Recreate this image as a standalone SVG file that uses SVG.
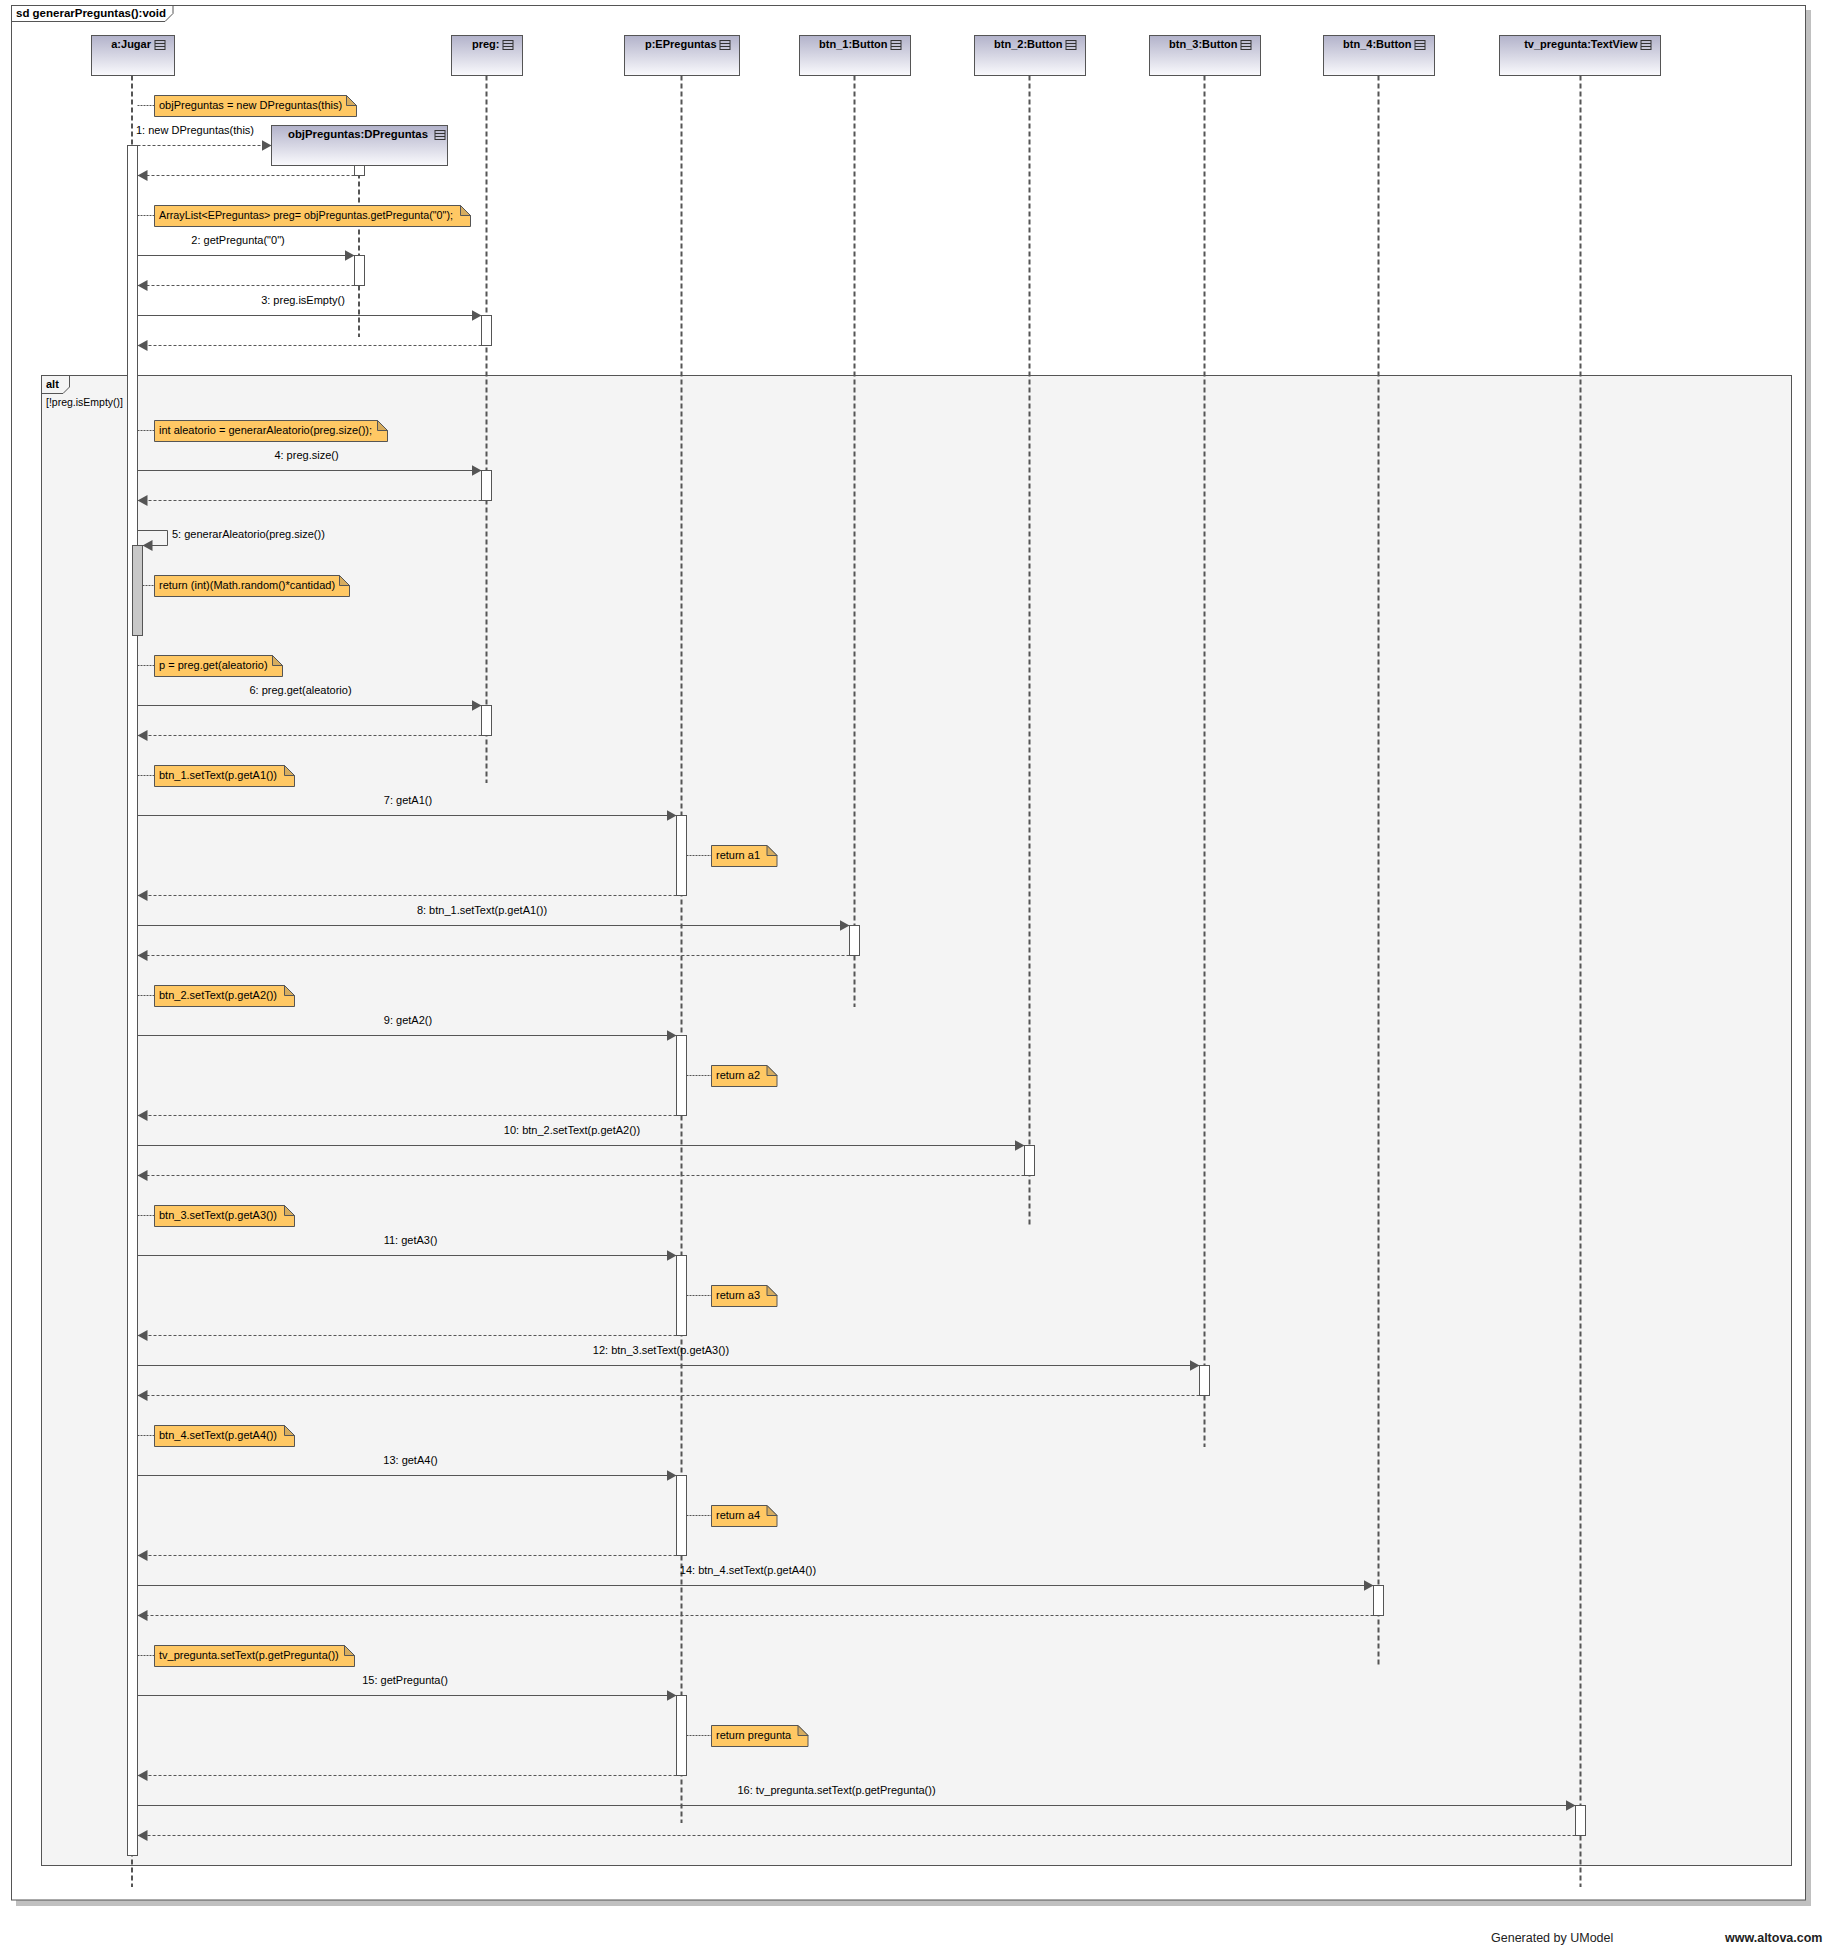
<svg xmlns="http://www.w3.org/2000/svg" width="1832" height="1946" viewBox="0 0 1832 1946">
<defs>
<linearGradient id="hg" x1="0" y1="0" x2="0" y2="1"><stop offset="0" stop-color="#b2b2ca"/><stop offset="1" stop-color="#fafafd"/></linearGradient>
<marker id="ah" markerUnits="userSpaceOnUse" markerWidth="12" markerHeight="13" refX="10" refY="6" orient="auto"><path d="M0,0.5 L10,6 L0,11.5 Z" fill="#555" stroke="none"/></marker>
</defs>
<style>
text{font-family:"Liberation Sans",Arial,sans-serif;font-size:11px;fill:#000}
.b{font-weight:bold}
.m{text-anchor:middle}
.e{text-anchor:end}
.hdr{fill:url(#hg);stroke:#555;stroke-width:1}
.ic{fill:none;stroke:#333;stroke-width:1}
.ll{stroke:#555;stroke-width:2;stroke-dasharray:5 3;fill:none}
.act{fill:#fff;stroke:#555;stroke-width:1}
.act2{fill:#c8c8c8;stroke:#555;stroke-width:1}
.call{stroke:#555;stroke-width:1;fill:none;marker-end:url(#ah)}
.ret{stroke:#555;stroke-width:1;stroke-dasharray:3 2;fill:none;marker-end:url(#ah)}
.note{fill:#ffc864;stroke:#555;stroke-width:1}
.fold{fill:#d6ac5e;stroke:#555;stroke-width:1}
.nc{stroke:#555;stroke-width:1;stroke-dasharray:2 1;fill:none}
.frm{fill:none;stroke:#555;stroke-width:1}
.foot{font-size:12.5px;fill:#222}
</style>

<g id="frame">
<rect x="16" y="10" width="1795" height="1896" fill="#c0c0c0"/>
<rect x="11.5" y="5.5" width="1794" height="1894.5" fill="#fff" stroke="#555"/>
<path class="frm" d="M11.5 21.5H165L173 13.5V5.5"/>
<text class="b" x="16" y="17" textLength="150" lengthAdjust="spacingAndGlyphs">sd generarPreguntas():void</text>
</g>

<g id="alt">
<rect x="41.5" y="375.5" width="1750" height="1490" fill="#f4f4f4" stroke="#555"/>
<path class="frm" d="M41.5 393.5H63L69.5 387V375.5"/>
<text class="b" x="46" y="388">alt</text>
<text x="46" y="406" textLength="77" lengthAdjust="spacingAndGlyphs">[!preg.isEmpty()]</text>
</g>

<g id="lifeline-jugar">
<rect class="hdr" x="91.5" y="35.5" width="83" height="40"/>
<text class="b e" x="151" y="48">a:Jugar</text>
<g class="ic"><rect x="155" y="40.5" width="10" height="9"/><path d="M155 43.5H165M155 46.5H165"/></g>
<line class="ll" x1="132" y1="75.5" x2="132" y2="1887"/>
<rect class="act" x="127.5" y="145.5" width="10" height="1710"/>
<rect class="act2" x="132.5" y="545.5" width="10" height="90"/>
</g>

<g id="lifeline-objPreguntas">
<rect class="hdr" x="271.5" y="125.5" width="176" height="40"/>
<text class="b e" x="428" y="138" textLength="140" lengthAdjust="spacingAndGlyphs">objPreguntas:DPreguntas</text>
<g class="ic"><rect x="435" y="130.5" width="10" height="9"/><path d="M435 133.5H445M435 136.5H445"/></g>
<line class="ll" x1="359" y1="165.5" x2="359" y2="337"/>
<rect class="act" x="354.5" y="165.5" width="10" height="10"/>
<rect class="act" x="354.5" y="255.5" width="10" height="30"/>
</g>

<g id="lifeline-preg">
<rect class="hdr" x="451.5" y="35.5" width="71" height="40"/>
<text class="b e" x="499.5" y="48">preg:</text>
<g class="ic"><rect x="503" y="40.5" width="10" height="9"/><path d="M503 43.5H513M503 46.5H513"/></g>
<line class="ll" x1="486.5" y1="75.5" x2="486.5" y2="783"/>
<rect class="act" x="481.5" y="315.5" width="10" height="30"/>
<rect class="act" x="481.5" y="470.5" width="10" height="30"/>
<rect class="act" x="481.5" y="705.5" width="10" height="30"/>
</g>

<g id="lifeline-p">
<rect class="hdr" x="624.5" y="35.5" width="115" height="40"/>
<text class="b e" x="716.5" y="48">p:EPreguntas</text>
<g class="ic"><rect x="720" y="40.5" width="10" height="9"/><path d="M720 43.5H730M720 46.5H730"/></g>
<line class="ll" x1="681.5" y1="75.5" x2="681.5" y2="1823"/>
<rect class="act" x="676.5" y="815.5" width="10" height="80"/>
<rect class="act" x="676.5" y="1035.5" width="10" height="80"/>
<rect class="act" x="676.5" y="1255.5" width="10" height="80"/>
<rect class="act" x="676.5" y="1475.5" width="10" height="80"/>
<rect class="act" x="676.5" y="1695.5" width="10" height="80"/>
</g>

<g id="lifeline-btn1">
<rect class="hdr" x="799.5" y="35.5" width="111" height="40"/>
<text class="b e" x="887.5" y="48">btn_1:Button</text>
<g class="ic"><rect x="891" y="40.5" width="10" height="9"/><path d="M891 43.5H901M891 46.5H901"/></g>
<line class="ll" x1="854.5" y1="75.5" x2="854.5" y2="1007"/>
<rect class="act" x="849.5" y="925.5" width="10" height="30"/>
</g>

<g id="lifeline-btn2">
<rect class="hdr" x="974.5" y="35.5" width="111" height="40"/>
<text class="b e" x="1062.5" y="48">btn_2:Button</text>
<g class="ic"><rect x="1066" y="40.5" width="10" height="9"/><path d="M1066 43.5H1076M1066 46.5H1076"/></g>
<line class="ll" x1="1029.5" y1="75.5" x2="1029.5" y2="1227"/>
<rect class="act" x="1024.5" y="1145.5" width="10" height="30"/>
</g>

<g id="lifeline-btn3">
<rect class="hdr" x="1149.5" y="35.5" width="111" height="40"/>
<text class="b e" x="1237.5" y="48">btn_3:Button</text>
<g class="ic"><rect x="1241" y="40.5" width="10" height="9"/><path d="M1241 43.5H1251M1241 46.5H1251"/></g>
<line class="ll" x1="1204.5" y1="75.5" x2="1204.5" y2="1447"/>
<rect class="act" x="1199.5" y="1365.5" width="10" height="30"/>
</g>

<g id="lifeline-btn4">
<rect class="hdr" x="1323.5" y="35.5" width="111" height="40"/>
<text class="b e" x="1411.5" y="48">btn_4:Button</text>
<g class="ic"><rect x="1415" y="40.5" width="10" height="9"/><path d="M1415 43.5H1425M1415 46.5H1425"/></g>
<line class="ll" x1="1378.5" y1="75.5" x2="1378.5" y2="1667"/>
<rect class="act" x="1373.5" y="1585.5" width="10" height="30"/>
</g>

<g id="lifeline-tv">
<rect class="hdr" x="1499.5" y="35.5" width="161" height="40"/>
<text class="b e" x="1637.5" y="48">tv_pregunta:TextView</text>
<g class="ic"><rect x="1641" y="40.5" width="10" height="9"/><path d="M1641 43.5H1651M1641 46.5H1651"/></g>
<line class="ll" x1="1580.5" y1="75.5" x2="1580.5" y2="1887"/>
<rect class="act" x="1575.5" y="1805.5" width="10" height="30"/>
</g>

<g id="connectors">
<path class="ret" d="M137.5 145.5H271.5"/>
<text x="136" y="134">1: new DPreguntas(this)</text>
<path class="ret" d="M354.5 175.5H137.5"/>
<path class="call" d="M137.5 255.5H354.5"/>
<text class="m" x="238" y="244">2: getPregunta("0")</text>
<path class="ret" d="M354.5 285.5H137.5"/>
<path class="call" d="M137.5 315.5H481.5"/>
<text class="m" x="303" y="304">3: preg.isEmpty()</text>
<path class="ret" d="M481.5 345.5H137.5"/>
<path class="call" d="M137.5 470.5H481.5"/>
<text class="m" x="306.5" y="459">4: preg.size()</text>
<path class="ret" d="M481.5 500.5H137.5"/>
<path class="call" d="M137.5 530.5H167.5V545.5H142.5"/>
<text x="172" y="538">5: generarAleatorio(preg.size())</text>
<path class="call" d="M137.5 705.5H481.5"/>
<text class="m" x="300.5" y="694">6: preg.get(aleatorio)</text>
<path class="ret" d="M481.5 735.5H137.5"/>

<path class="call" d="M137.5 815.5H676.5"/>
<text class="m" x="408" y="804">7: getA1()</text>
<path class="ret" d="M676.5 895.5H137.5"/>
<path class="call" d="M137.5 925.5H849.5"/>
<text class="m" x="482" y="914">8: btn_1.setText(p.getA1())</text>
<path class="ret" d="M849.5 955.5H137.5"/>

<path class="call" d="M137.5 1035.5H676.5"/>
<text class="m" x="408" y="1024">9: getA2()</text>
<path class="ret" d="M676.5 1115.5H137.5"/>
<path class="call" d="M137.5 1145.5H1024.5"/>
<text class="m" x="572" y="1134">10: btn_2.setText(p.getA2())</text>
<path class="ret" d="M1024.5 1175.5H137.5"/>

<path class="call" d="M137.5 1255.5H676.5"/>
<text class="m" x="410.5" y="1244">11: getA3()</text>
<path class="ret" d="M676.5 1335.5H137.5"/>
<path class="call" d="M137.5 1365.5H1199.5"/>
<text class="m" x="661" y="1354">12: btn_3.setText(p.getA3())</text>
<path class="ret" d="M1199.5 1395.5H137.5"/>

<path class="call" d="M137.5 1475.5H676.5"/>
<text class="m" x="410.5" y="1464">13: getA4()</text>
<path class="ret" d="M676.5 1555.5H137.5"/>
<path class="call" d="M137.5 1585.5H1373.5"/>
<text class="m" x="748" y="1574">14: btn_4.setText(p.getA4())</text>
<path class="ret" d="M1373.5 1615.5H137.5"/>

<path class="call" d="M137.5 1695.5H676.5"/>
<text class="m" x="405" y="1684">15: getPregunta()</text>
<path class="ret" d="M676.5 1775.5H137.5"/>
<path class="call" d="M137.5 1805.5H1575.5"/>
<text class="m" x="836.5" y="1794">16: tv_pregunta.setText(p.getPregunta())</text>
<path class="ret" d="M1575.5 1835.5H137.5"/>

<path class="nc" d="M137.5 105.5H154.5"/>
<path class="nc" d="M137.5 215.5H154.5"/>
<path class="nc" d="M137.5 430.5H154.5"/>
<path class="nc" d="M142.5 585.5H154.5"/>
<path class="nc" d="M137.5 665.5H154.5"/>
<path class="nc" d="M137.5 775.5H154.5"/>
<path class="nc" d="M686.5 855.5H711.5"/>
<path class="nc" d="M137.5 995.5H154.5"/>
<path class="nc" d="M686.5 1075.5H711.5"/>
<path class="nc" d="M137.5 1215.5H154.5"/>
<path class="nc" d="M686.5 1295.5H711.5"/>
<path class="nc" d="M137.5 1435.5H154.5"/>
<path class="nc" d="M686.5 1515.5H711.5"/>
<path class="nc" d="M137.5 1655.5H154.5"/>
<path class="nc" d="M686.5 1735.5H711.5"/>
</g>

<g id="note1"><path class="note" d="M154.5 95.5H346.5L356.5 105.5V116.5H154.5Z"/><path class="fold" d="M346.5 95.5V105.5H356.5Z"/><text x="159" y="109">objPreguntas = new DPreguntas(this)</text></g>
<g id="note2"><path class="note" d="M154.5 205.5H460.5L470.5 215.5V226.5H154.5Z"/><path class="fold" d="M460.5 205.5V215.5H470.5Z"/><text x="159" y="219" textLength="294" lengthAdjust="spacingAndGlyphs">ArrayList&lt;EPreguntas&gt; preg= objPreguntas.getPregunta("0");</text></g>
<g id="note3"><path class="note" d="M154.5 420.5H377.5L387.5 430.5V441.5H154.5Z"/><path class="fold" d="M377.5 420.5V430.5H387.5Z"/><text x="159" y="434">int aleatorio = generarAleatorio(preg.size());</text></g>
<g id="note4"><path class="note" d="M154.5 575.5H339.5L349.5 585.5V596.5H154.5Z"/><path class="fold" d="M339.5 575.5V585.5H349.5Z"/><text x="159" y="589">return (int)(Math.random()*cantidad)</text></g>
<g id="note5"><path class="note" d="M154.5 655.5H272.5L282.5 665.5V676.5H154.5Z"/><path class="fold" d="M272.5 655.5V665.5H282.5Z"/><text x="159" y="669">p = preg.get(aleatorio)</text></g>
<g id="note6"><path class="note" d="M154.5 765.5H284.5L294.5 775.5V786.5H154.5Z"/><path class="fold" d="M284.5 765.5V775.5H294.5Z"/><text x="159" y="779">btn_1.setText(p.getA1())</text></g>
<g id="note7"><path class="note" d="M711.5 845.5H767L777 855.5V866.5H711.5Z"/><path class="fold" d="M767 845.5V855.5H777Z"/><text x="716" y="859">return a1</text></g>
<g id="note8"><path class="note" d="M154.5 985.5H284.5L294.5 995.5V1006.5H154.5Z"/><path class="fold" d="M284.5 985.5V995.5H294.5Z"/><text x="159" y="999">btn_2.setText(p.getA2())</text></g>
<g id="note9"><path class="note" d="M711.5 1065.5H767L777 1075.5V1086.5H711.5Z"/><path class="fold" d="M767 1065.5V1075.5H777Z"/><text x="716" y="1079">return a2</text></g>
<g id="note10"><path class="note" d="M154.5 1205.5H284.5L294.5 1215.5V1226.5H154.5Z"/><path class="fold" d="M284.5 1205.5V1215.5H294.5Z"/><text x="159" y="1219">btn_3.setText(p.getA3())</text></g>
<g id="note11"><path class="note" d="M711.5 1285.5H767L777 1295.5V1306.5H711.5Z"/><path class="fold" d="M767 1285.5V1295.5H777Z"/><text x="716" y="1299">return a3</text></g>
<g id="note12"><path class="note" d="M154.5 1425.5H284.5L294.5 1435.5V1446.5H154.5Z"/><path class="fold" d="M284.5 1425.5V1435.5H294.5Z"/><text x="159" y="1439">btn_4.setText(p.getA4())</text></g>
<g id="note13"><path class="note" d="M711.5 1505.5H767L777 1515.5V1526.5H711.5Z"/><path class="fold" d="M767 1505.5V1515.5H777Z"/><text x="716" y="1519">return a4</text></g>
<g id="note14"><path class="note" d="M154.5 1645.5H344.5L354.5 1655.5V1666.5H154.5Z"/><path class="fold" d="M344.5 1645.5V1655.5H354.5Z"/><text x="159" y="1659">tv_pregunta.setText(p.getPregunta())</text></g>
<g id="note15"><path class="note" d="M711.5 1725.5H798L808 1735.5V1746.5H711.5Z"/><path class="fold" d="M798 1725.5V1735.5H808Z"/><text x="716" y="1739">return pregunta</text></g>

<g id="footer">
<text class="foot" x="1491" y="1942">Generated by UModel</text>
<text class="foot b" x="1725" y="1942">www.altova.com</text>
</g>
</svg>
